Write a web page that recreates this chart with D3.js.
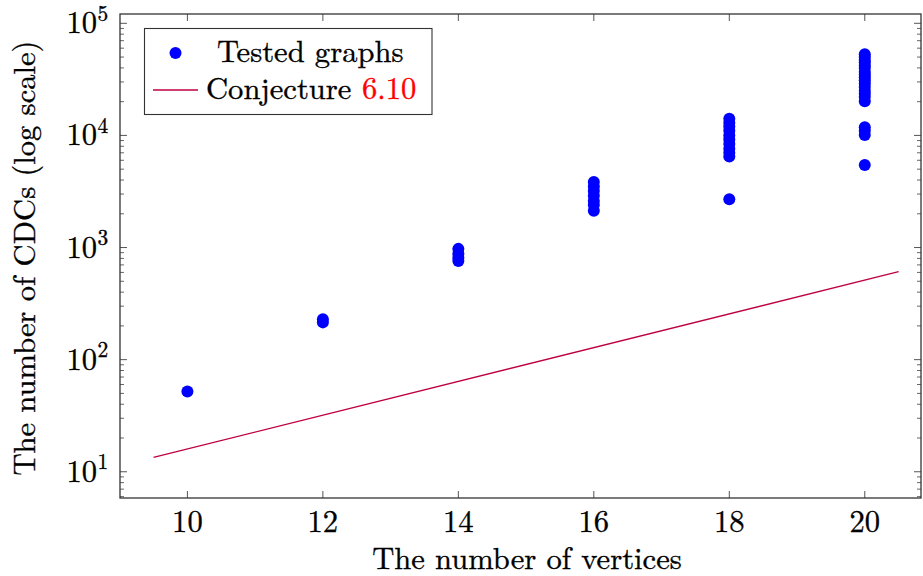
<!DOCTYPE html>
<html>
<head>
<meta charset="utf-8">
<script src="https://cdn.jsdelivr.net/npm/d3@7"></script>
<style>
  html, body { margin: 0; padding: 0; background: #fff; }
</style>
</head>
<body>
<svg id="chart" width="923" height="576"></svg>
<script>
// ---- data ----
const testedN = [
  10,
  12, 12,
  14, 14, 14, 14,
  16, 16, 16, 16, 16, 16, 16,
  18, 18, 18, 18, 18, 18, 18, 18, 18, 18, 18,
  20, 20, 20, 20, 20, 20, 20, 20, 20, 20, 20, 20, 20, 20, 20, 20, 20, 20, 20, 20
];
const testedCDCs = [
  52,
  229, 215,
  973, 880, 810, 760,
  3840, 3500, 3200, 2900, 2600, 2400, 2130,
  14100, 13000, 12000, 11000, 10000, 9200, 8400, 7600, 7000, 6470, 2700,
  52900, 50000, 47000, 45000, 42000, 40000, 37000, 35000, 33000, 31000, 29000, 27000, 25000, 23500, 22000, 20200, 11850, 11000, 10100, 5450
];
const conjectureN = [9.5, 20.5];
const conjectureCDCs = [13.45, 608.9];
const xTicks = [10, 12, 14, 16, 18, 20];
const yTickExponents = [1, 2, 3, 4, 5];
const legendLabels = ["Tested graphs", "Conjecture", "6.10"];
const xLabel = "The number of vertices";
const yLabel = "The number of CDCs (log scale)";

// ---- layout ----
const FONT = '"Latin Modern Roman", "Liberation Serif", serif';
const FS = 30.6;
const L = 120, R = 921, T = 14, B = 498;
const svg = d3.select("#chart");

const x = d3.scaleLinear().domain([9.005, 20.83]).range([L, R]);
const y = d3.scaleLog().domain([Math.pow(10, 0.766), Math.pow(10, 5.083)]).range([B, T]);

const tickColor = "#555";
function txt(sel, color = "#000") {
  return sel.append("text").style("font-family", FONT)
    .attr("fill", color).attr("stroke", color).attr("stroke-width", 0.35);
}

// minor y ticks
const minor = [];
for (let e = 0; e <= 5; e++) for (let m = 2; m <= 9; m++) {
  const v = m * Math.pow(10, e);
  if (v >= y.domain()[0] && v <= y.domain()[1]) minor.push(v);
}
const g = svg.append("g");
g.selectAll("line.minl").data(minor).enter().append("line")
  .attr("x1", L).attr("x2", L + 4).attr("y1", d => y(d)).attr("y2", d => y(d))
  .attr("stroke", tickColor).attr("stroke-width", 0.9);
g.selectAll("line.minr").data(minor).enter().append("line")
  .attr("x1", R).attr("x2", R - 4).attr("y1", d => y(d)).attr("y2", d => y(d))
  .attr("stroke", tickColor).attr("stroke-width", 0.9);

// major y ticks
const majors = yTickExponents.map(e => Math.pow(10, e));
g.selectAll("line.majl").data(majors).enter().append("line")
  .attr("x1", L).attr("x2", L + 7).attr("y1", d => y(d)).attr("y2", d => y(d))
  .attr("stroke", tickColor).attr("stroke-width", 1);
g.selectAll("line.majr").data(majors).enter().append("line")
  .attr("x1", R).attr("x2", R - 7).attr("y1", d => y(d)).attr("y2", d => y(d))
  .attr("stroke", tickColor).attr("stroke-width", 1);

// x ticks bottom & top
g.selectAll("line.xb").data(xTicks).enter().append("line")
  .attr("x1", d => x(d)).attr("x2", d => x(d)).attr("y1", B).attr("y2", B - 7)
  .attr("stroke", tickColor).attr("stroke-width", 1);
g.selectAll("line.xt").data(xTicks).enter().append("line")
  .attr("x1", d => x(d)).attr("x2", d => x(d)).attr("y1", T).attr("y2", T + 7)
  .attr("stroke", tickColor).attr("stroke-width", 1);

// x tick labels
xTicks.forEach(t => {
  txt(g).attr("x", x(t)).attr("y", 532).attr("text-anchor", "middle")
    .attr("font-size", FS).text(t);
});

// y tick labels
yTickExponents.forEach(e => {
  const yy = y(Math.pow(10, e));
  txt(g).attr("x", 97).attr("y", yy + 10).attr("text-anchor", "end")
    .attr("font-size", FS).text("10");
  txt(g).attr("x", 97.5).attr("y", yy - 2.6).attr("text-anchor", "start")
    .attr("font-size", 21.4).text(e);
});

// axis labels
txt(svg).attr("x", 527).attr("y", 569).attr("text-anchor", "middle")
  .attr("font-size", FS).text(xLabel);
txt(svg).attr("transform", "translate(35,258) rotate(-90)")
  .attr("text-anchor", "middle").attr("font-size", FS).text(yLabel);

// conjecture line
const line = d3.line().x(d => x(d[0])).y(d => y(d[1]));
svg.append("path").datum(conjectureN.map((n, i) => [n, conjectureCDCs[i]]))
  .attr("d", line).attr("fill", "none").attr("stroke", "#bf0040").attr("stroke-width", 1.3);

// tested points
svg.append("g").selectAll("circle").data(testedN.map((n, i) => [n, testedCDCs[i]]))
  .enter().append("circle")
  .attr("cx", d => x(d[0])).attr("cy", d => y(d[1])).attr("r", 6)
  .attr("fill", "#0000ff");

// axis frame
svg.append("rect").attr("x", L).attr("y", T).attr("width", R - L).attr("height", B - T)
  .attr("fill", "none").attr("stroke", "#333").attr("stroke-width", 1.3);

// legend
const lg = svg.append("g");
lg.append("rect").attr("x", 144.5).attr("y", 28.5).attr("width", 287.5).attr("height", 86)
  .attr("fill", "#fff").attr("stroke", "#333").attr("stroke-width", 1.1);
lg.append("circle").attr("cx", 175.5).attr("cy", 53).attr("r", 6).attr("fill", "#0000ff");
lg.append("line").attr("x1", 153).attr("x2", 198).attr("y1", 90).attr("y2", 90)
  .attr("stroke", "#bf0040").attr("stroke-width", 1.3);
txt(lg).attr("x", 217).attr("y", 62).attr("font-size", FS).text(legendLabels[0]);
txt(lg).attr("x", 206).attr("y", 99).attr("font-size", FS).text(legendLabels[1]);
txt(lg, "#ff0000").attr("x", 362).attr("y", 99).attr("font-size", FS).text(legendLabels[2]);
</script>
</body>
</html>
